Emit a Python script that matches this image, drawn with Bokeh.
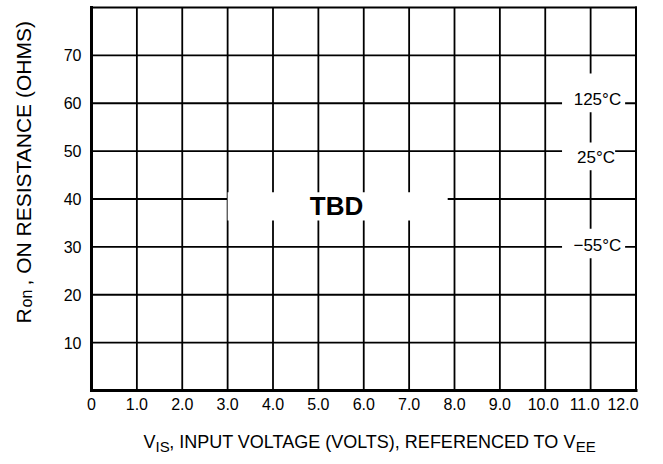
import math
from bokeh.plotting import figure
from bokeh.models import Range1d
from bokeh.core.properties import value
from bokeh.embed import file_html
from bokeh.resources import INLINE

# ---- data ----
x_limits = [0, 12]
y_limits = [0, 80]
x_ticks = [0, 1, 2, 3, 4, 5, 6, 7, 8, 9, 10, 11, 12]
x_tick_labels = ["0", "1.0", "2.0", "3.0", "4.0", "5.0", "6.0", "7.0", "8.0",
                 "9.0", "10.0", "11.0", "12.0"]
y_ticks = [10, 20, 30, 40, 50, 60, 70]
y_tick_labels = ["10", "20", "30", "40", "50", "60", "70"]

temp_labels = ["125°C", "25°C", "\u221255°C"]
temp_x = [11.15, 11.12, 11.15]
temp_y = [60.8, 48.7, 30.3]
temp_box_left = [10.37, 10.37, 10.37]
temp_box_right = [11.76, 11.54, 11.76]
temp_box_top = [66.2, 51.8, 33.8]
temp_box_bottom = [58.1, 46.0, 27.6]

tbd_label = ["TBD"]
tbd_x = [5.4]
tbd_y = [38.6]
tbd_box_left = [3.0]
tbd_box_right = [7.85]
tbd_box_top = [41.4]
tbd_box_bottom = [35.5]

x_title_parts = ["V", "IS", ", INPUT VOLTAGE (VOLTS), REFERENCED TO", "V", "EE"]
y_title_parts = ["R", "on", ", ON RESISTANCE (OHMS)"]

FONT = "Liberation Sans, Arial, Helvetica, sans-serif"

# label nudges (pixels) so the crowded last tick labels stay inside the page
x_label_nudge = [0, 0, 0, 0, 0, 0, 0, 0, 0, 0, -2, -6, -13]

# frame fills the whole canvas; the chart area is drawn with data coordinates
W, H = 647, 456
p = figure(width=W, height=H, output_backend="svg", toolbar_location=None,
           x_range=Range1d(-2.0055, 12.2534), y_range=Range1d(-13.786, 81.462),
           x_axis_type=None, y_axis_type=None,
           min_border_left=0, min_border_right=0, min_border_top=0,
           min_border_bottom=0)
p.background_fill_color = "white"
p.border_fill_color = "white"
p.outline_line_color = None
p.grid.visible = False

x0, x1 = x_limits
y0, y1 = y_limits
inner_x = [t for t in x_ticks if x0 < t < x1]

# grid lines
p.segment(x0=inner_x, y0=[y0] * len(inner_x), x1=inner_x, y1=[y1] * len(inner_x),
          line_color="black", line_width=1.8)
p.segment(x0=[x0] * len(y_ticks), y0=y_ticks, x1=[x1] * len(y_ticks), y1=y_ticks,
          line_color="black", line_width=1.8)

# white boxes behind labels
p.quad(left=temp_box_left, right=temp_box_right, top=temp_box_top,
       bottom=temp_box_bottom, fill_color="white", line_color=None)
p.quad(left=tbd_box_left, right=tbd_box_right, top=tbd_box_top,
       bottom=tbd_box_bottom, fill_color="white", line_color=None)

# frame: thick left/bottom axes, thinner top/right
p.segment(x0=[x0, x0], y0=[y0, y0], x1=[x1, x0], y1=[y0, y1],
          line_color="black", line_width=3, line_cap="square")
p.segment(x0=[x0, x1], y0=[y1, y0], x1=[x1, x1], y1=[y1, y1],
          line_color="black", line_width=2, line_cap="square")

# tick labels
p.text(x=x_ticks, y=[y0] * len(x_ticks), text=x_tick_labels,
       text_font=value(FONT), text_font_size="16px", text_align="center",
       text_baseline="top", y_offset=8, x_offset=x_label_nudge,
       text_color="black")
p.text(x=[x0] * len(y_ticks), y=y_ticks, text=y_tick_labels,
       text_font=value(FONT), text_font_size="16px", text_align="right",
       text_baseline="middle", x_offset=-10, text_color="black")

# in-chart labels
p.text(x=temp_x, y=temp_y, text=temp_labels, text_font=value(FONT),
       text_font_size="17px", text_align="center", text_baseline="middle",
       text_color="black")
p.text(x=tbd_x, y=tbd_y, text=tbd_label, text_font=value(FONT),
       text_font_size="26px", text_font_style="bold", text_align="center",
       text_baseline="middle", text_color="black")

# x title with subscripts
p.text(x=[1.146], y=[-10.86], text=[x_title_parts[0]], text_font=value(FONT),
       text_font_size="18px", text_align="left", text_baseline="middle")
p.text(x=[1.41], y=[-11.8], text=[x_title_parts[1]], text_font=value(FONT),
       text_font_size="15px", text_align="left", text_baseline="middle")
p.text(x=[6.006], y=[-10.86], text=[x_title_parts[2]], text_font=value(FONT),
       text_font_size="18px", text_align="center", text_baseline="middle")
p.text(x=[10.40], y=[-10.86], text=[x_title_parts[3]], text_font=value(FONT),
       text_font_size="18px", text_align="left", text_baseline="middle")
p.text(x=[10.67], y=[-11.8], text=[x_title_parts[4]], text_font=value(FONT),
       text_font_size="15px", text_align="left", text_baseline="middle")

# y title (rotated) with subscript
ang = math.pi / 2
p.text(x=[-1.499], y=[13.99], text=[y_title_parts[0]], text_font=value(FONT),
       text_font_size="21px", angle=ang, text_align="left",
       text_baseline="middle")
p.text(x=[-1.432], y=[17.34], text=[y_title_parts[1]], text_font=value(FONT),
       text_font_size="16px", angle=ang, text_align="left",
       text_baseline="middle")
p.text(x=[-1.499], y=[21.93], text=[y_title_parts[2]], text_font=value(FONT),
       text_font_size="21px", angle=ang, text_align="left",
       text_baseline="middle")

open("out.html", "w").write(file_html(p, INLINE))
